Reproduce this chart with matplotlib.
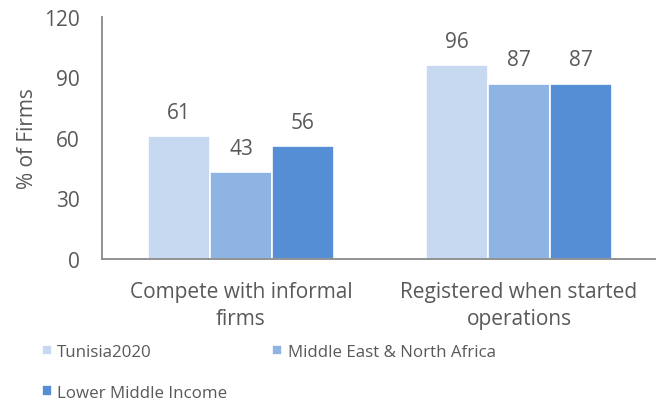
import numpy as np
import matplotlib
matplotlib.use("Agg")
import matplotlib.pyplot as plt

plt.rcParams['font.family'] = ['Open Sans', 'DejaVu Sans']

categories = ["Compete with informal\nfirms", "Registered when started\noperations"]
series_names = ["Tunisia2020", "Middle East & North Africa", "Lower Middle Income"]
tunisia = [61, 96]
mena = [43, 87]
lmi = [56, 87]
colors = ["#C6D9F1", "#8EB4E3", "#558ED5"]
yticks = [0, 30, 60, 90, 120]

text_col = "#595959"
fs = 15
fig = plt.figure(figsize=(6.56, 4.06), dpi=100)
ax = fig.add_axes([102 / 656, 1 - 260 / 406, 556 / 656, 242 / 406])

x = np.arange(len(categories))
width = 0.222
handles = []
for i, (vals, name) in enumerate(zip([tunisia, mena, lmi], series_names)):
    bars = ax.bar(x + (i - 1) * width, vals, width, color=colors[i],
                  edgecolor="white", linewidth=1.2, label=name)
    handles.append(bars)
    for b, v in zip(bars, vals):
        ax.annotate(str(v), (b.get_x() + b.get_width() / 2, v),
                    xytext=(0, 17), textcoords="offset points",
                    ha="center", va="center", fontsize=fs, color=text_col)

ax.set_xlim(-0.5, 1.5)
ax.set_ylim(0, 120)
ax.set_yticks(yticks)
ax.set_xticks(x)
ax.set_xticklabels(categories, fontsize=fs, color=text_col, linespacing=1.35)
ax.tick_params(axis="y", length=0, labelsize=fs, labelcolor=text_col, pad=16)
ax.tick_params(axis="x", length=0, pad=16)
ax.set_ylabel("% of Firms", fontsize=fs, color=text_col, labelpad=4)
for s in ["top", "right"]:
    ax.spines[s].set_visible(False)
for s in ["left", "bottom"]:
    ax.spines[s].set_color("#898989")
    ax.spines[s].set_linewidth(1.3)

# row-wise legend order: Tunisia, MENA / LMI
order = [0, 2, 1]
fig.legend([handles[k] for k in order], [series_names[k] for k in order],
           loc="upper left", bbox_to_anchor=(42 / 656, 1 - 345 / 406), ncol=2,
           frameon=False, fontsize=12.2, handlelength=0.6, handleheight=0.6,
           handletextpad=0.3, columnspacing=2.65, labelspacing=1.45,
           labelcolor=text_col, borderaxespad=0, borderpad=0)

fig.savefig("out.png", dpi=100)
